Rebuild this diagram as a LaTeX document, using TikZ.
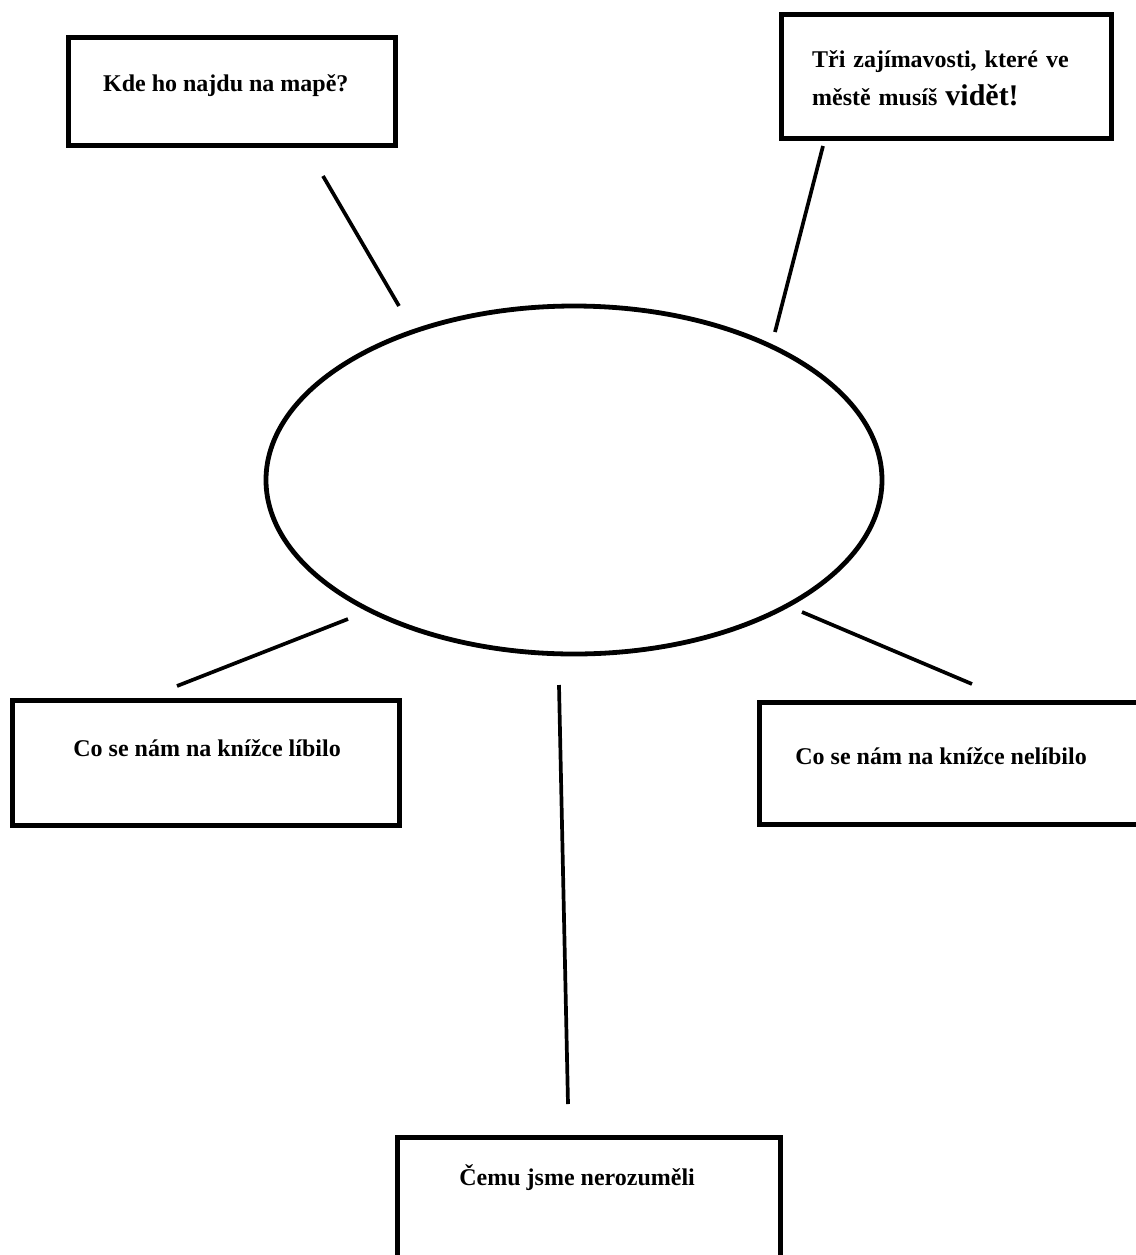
\documentclass[tikz,border=0pt]{standalone}
\usepackage{fontspec}
\setmainfont{Liberation Serif}
\usetikzlibrary{shapes.geometric}
\begin{document}
\begin{tikzpicture}[x=0.5pt,y=-0.5pt,
  boxnode/.style={draw=black, line width=2.5pt, rectangle, inner sep=0pt},
  ovalnode/.style={draw=black, line width=2.4pt, ellipse, inner sep=0pt},
  txt/.style={anchor=base west, inner sep=0pt, font=\fontsize{12}{18.85}\selectfont\bfseries},
  spoke/.style={draw=black, line width=1.85pt}
]
\useasboundingbox (0,0) rectangle (1136,1255);
\clip (0,0) rectangle (1136,1255);

% boxes
\node[boxnode, minimum width=163.25pt, minimum height=54.25pt] (b1) at (231.75,91.25) {};
\node[boxnode, minimum width=165pt, minimum height=62pt] (b2) at (946.5,76) {};
\node[boxnode, minimum width=193.5pt, minimum height=62.5pt] (b3) at (206,762.5) {};
\node[boxnode, minimum width=200.5pt, minimum height=61.25pt] (b4) at (959.5,763.25) {};
\node[boxnode, minimum width=191.5pt, minimum height=71.5pt] (b5) at (589,1208.5) {};

% central ellipse
\node[ovalnode, minimum width=308pt, minimum height=174pt] (core) at (574,480) {};

% texts
\node[txt] (t1) at (102.7,91.7) {Kde ho najdu na mapě?};
\node[txt, text width=132pt, align=left] (t2) at (811.7,67.3)
  {\makebox[132pt][s]{Tři zajímavosti, které ve}\\městě musíš {\fontsize{15}{18}\selectfont vidět!}};
\node[txt] (t3) at (73,756.7) {Co se nám na knížce líbilo};
\node[txt] (t4) at (795,764) {Co se nám na knížce nelíbilo};
\node[txt] (t5) at (459,1185.7) {Čemu jsme nerozuměli};

% connector end points
\coordinate (a1) at (323,176);  \coordinate (e1) at (399,306);
\coordinate (a2) at (823,146);  \coordinate (e2) at (775,332);
\coordinate (a3) at (177,686);  \coordinate (e3) at (348,619);
\coordinate (a4) at (972,684);  \coordinate (e4) at (802,612);
\coordinate (a5) at (568,1104); \coordinate (e5) at (559,685);

\draw[spoke] (a1) -- (e1);
\draw[spoke] (a2) -- (e2);
\draw[spoke] (a3) -- (e3);
\draw[spoke] (a4) -- (e4);
\draw[spoke] (a5) -- (e5);
\end{tikzpicture}
\end{document}
